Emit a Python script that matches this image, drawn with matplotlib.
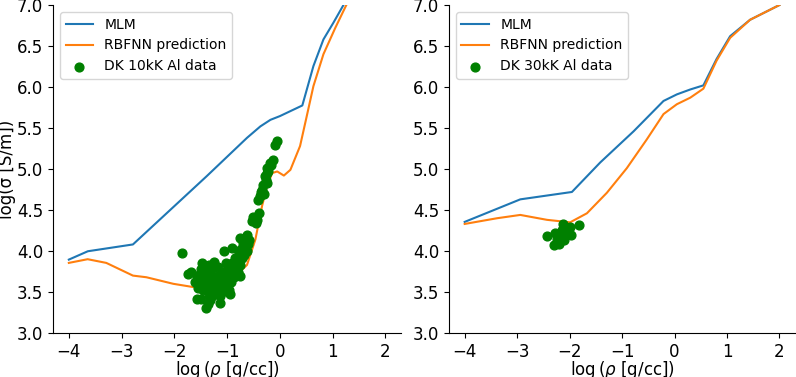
import matplotlib
matplotlib.use("Agg")
import matplotlib.pyplot as plt

# ---- Left panel data (10kK) ----
mlm10_x = [-4.0, -3.64, -2.785, -1.386, -0.623, -0.369, -0.178, 0.0, 0.426, 0.636, 0.826,
           1.016, 1.206, 1.6, 2.0]
mlm10_y = [3.895, 3.997, 4.08, 4.913, 5.38, 5.52, 5.60, 5.645, 5.775, 6.255, 6.58,
           6.785, 7.0, 7.35, 7.7]

rbf10_x = [-4.0, -3.644, -3.29, -2.785, -2.53, -2.02, -1.64, -1.386, -0.878, -0.623, -0.464,
           -0.337, -0.242, -0.146, -0.05, 0.076, 0.20, 0.383, 0.51, 0.636, 0.826, 1.05,
           1.26, 1.6, 2.0]
rbf10_y = [3.855, 3.90, 3.855, 3.70, 3.68, 3.60, 3.56, 3.57, 3.67, 3.83, 4.14,
           4.55, 4.79, 4.95, 4.97, 4.92, 4.99, 5.28, 5.645, 6.01, 6.40, 6.72,
           7.0, 7.35, 7.7]

dk10_x = [-1.85, -1.75, -1.69, -1.58, -1.50, -1.40, -1.36, -1.33, -1.28, -1.13, -0.94,
          -1.55, -1.55, -1.52, -1.50, -1.45, -1.42, -1.35, -1.30, -1.25,
          -1.48, -1.45, -1.40, -1.38, -1.35, -1.30, -1.28, -1.25, -1.22, -1.20, -1.18, -1.15,
          -1.12, -1.10, -1.08, -1.05, -1.02, -1.00, -0.98, -0.95, -0.92, -0.90, -0.88, -0.86,
          -0.85, -0.82, -0.80, -0.78, -0.76, -0.75, -0.73, -0.72, -0.70, -0.68, -0.66, -0.65,
          -0.63, -0.62, -1.06, -0.91, -0.75, -0.59, -0.60,
          -1.42, -1.38, -1.32, -1.18, -1.14, -0.97, -1.02, -1.48, -1.60, -1.58,
          -0.53, -0.50, -0.46, -0.43, -0.40, -0.48, -0.42, -0.37, -0.34, -0.31, -0.30, -0.27,
          -0.25, -0.28, -0.24, -0.22, -0.19, -0.16, -0.13, -0.10, -0.06, -0.35, -0.25]
dk10_y = [3.97, 3.72, 3.74, 3.42, 3.41, 3.31, 3.35, 3.40, 3.45, 3.37, 3.47,
          3.55, 3.65, 3.72, 3.78, 3.75, 3.81, 3.83, 3.78, 3.87,
          3.60, 3.52, 3.62, 3.55, 3.48, 3.58, 3.65, 3.52, 3.70, 3.60, 3.55, 3.65,
          3.72, 3.50, 3.62, 3.75, 3.68, 3.58, 3.80, 3.72, 3.62, 3.85, 3.78, 3.68,
          3.92, 3.88, 3.75, 3.98, 3.83, 3.70, 4.02, 3.92, 4.10, 3.95, 4.05, 4.15,
          4.00, 4.20, 4.00, 4.04, 4.16, 4.14, 4.08,
          3.68, 3.70, 3.66, 3.80, 3.45, 3.52, 3.85, 3.85, 3.62, 3.70,
          4.36, 4.42, 4.34, 4.38, 4.46, 4.40, 4.62, 4.67, 4.75, 4.81, 4.70, 4.87,
          4.95, 4.92, 5.01, 4.98, 5.07, 5.05, 5.11, 5.29, 5.34, 4.72, 4.83]

# ---- Right panel data (30kK) ----
mlm30_x = [-4.0, -2.94, -1.956, -1.416, -0.78, -0.21, 0.044, 0.30, 0.55, 0.80, 1.06, 1.44, 2.0]
mlm30_y = [4.355, 4.63, 4.72, 5.08, 5.46, 5.83, 5.91, 5.97, 6.02, 6.34, 6.62, 6.82, 7.0]

rbf30_x = [-4.0, -3.38, -2.94, -2.43, -1.99, -1.67, -1.29, -0.91, -0.53, -0.21, 0.044, 0.30,
           0.55, 0.80, 1.06, 1.44, 2.0]
rbf30_y = [4.33, 4.40, 4.44, 4.38, 4.35, 4.46, 4.71, 5.01, 5.36, 5.67, 5.79, 5.87,
           5.98, 6.32, 6.60, 6.82, 7.0]

dk30_x = [-2.43, -2.29, -2.27, -2.21, -2.24, -2.14, -2.12, -2.11, -2.08, -2.05, -1.99,
          -1.98, -1.83, -2.17, -2.10, -2.19]
dk30_y = [4.18, 4.07, 4.22, 4.08, 4.15, 4.26, 4.33, 4.14, 4.22, 4.28, 4.29,
          4.19, 4.32, 4.18, 4.20, 4.12]

BLUE = '#1f77b4'
ORANGE = '#ff7f0e'

fig = plt.figure(figsize=(7.96, 3.77), dpi=100)
ax1 = fig.add_axes([0.0666, 0.1167, 0.4374, 0.870])
ax2 = fig.add_axes([0.564, 0.1167, 0.435, 0.870])

panels = [
    (ax1, mlm10_x, mlm10_y, rbf10_x, rbf10_y, dk10_x, dk10_y, 'DK 10kK Al data'),
    (ax2, mlm30_x, mlm30_y, rbf30_x, rbf30_y, dk30_x, dk30_y, 'DK 30kK Al data'),
]
for ax, mx, my, rx, ry, dx, dy, lab in panels:
    ax.plot(mx, my, color=BLUE, lw=1.5, label='MLM')
    ax.plot(rx, ry, color=ORANGE, lw=1.5, label='RBFNN prediction')
    ax.scatter(dx, dy, color='green', s=40, label=lab, zorder=3)
    ax.set_xlim(-4.3, 2.3)
    ax.set_ylim(3.0, 7.0)
    ax.set_xticks([-4, -3, -2, -1, 0, 1, 2])
    ax.set_yticks([3.0, 3.5, 4.0, 4.5, 5.0, 5.5, 6.0, 6.5, 7.0])
    ax.spines['top'].set_visible(False)
    ax.spines['right'].set_visible(False)
    ax.tick_params(labelsize=12)
    ax.set_xlabel(r'log$\,(\rho$ [g/cc])', fontsize=12)
    ax.xaxis.set_label_coords(0.5, -0.079)
    ax.legend(loc='upper left', fontsize=10)

ax1.set_ylabel('log(σ [S/m])', fontsize=12)
ax1.yaxis.set_label_coords(-0.106, 0.5)

fig.savefig('out.png', dpi=100)
